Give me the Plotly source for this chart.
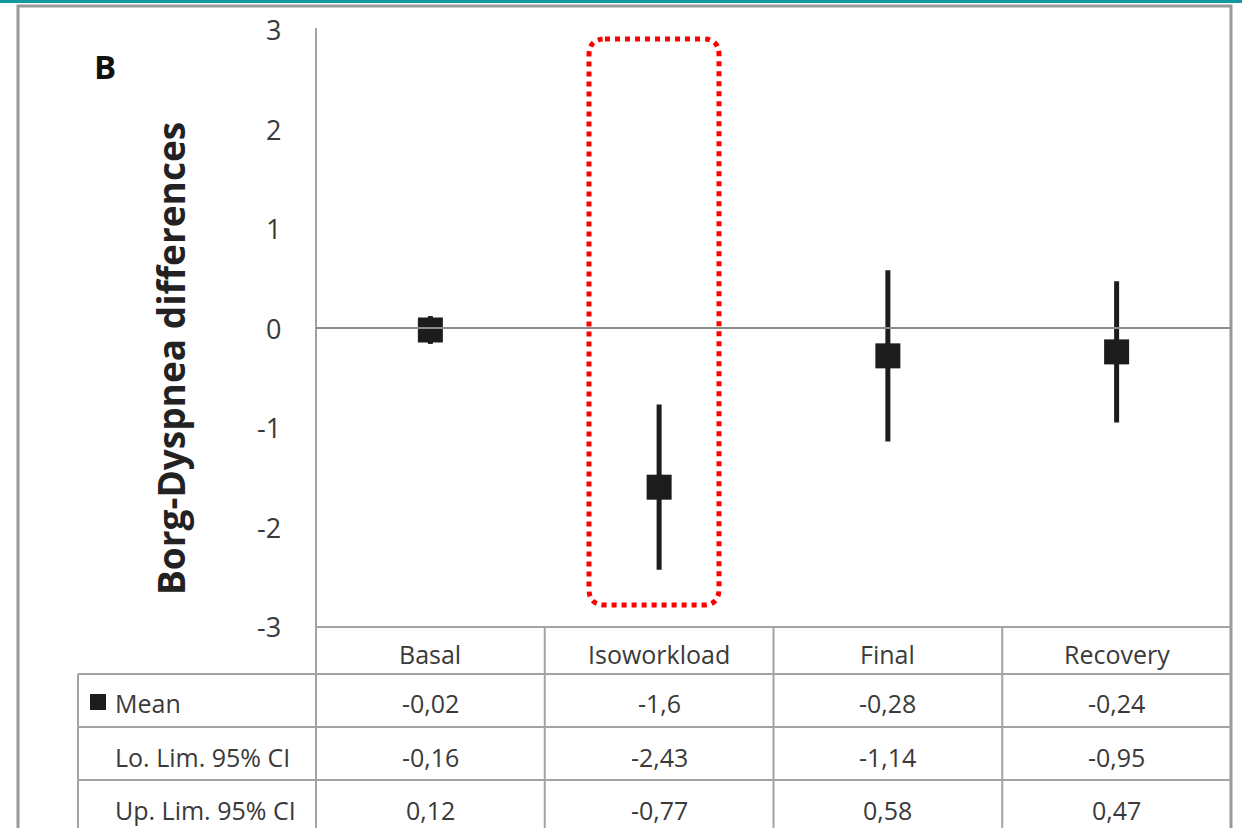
import plotly.graph_objects as go

# Borg dyspnea differences by exercise phase, with 95% confidence limits
phases = ["Basal", "Isoworkload", "Final", "Recovery"]
mean_diff = [-0.02, -1.6, -0.28, -0.24]
lo_ci = [-0.16, -2.43, -1.14, -0.95]
up_ci = [0.12, -0.77, 0.58, 0.47]
y_ticks = [-3, -2, -1, 0, 1, 2, 3]
row_labels = ["Mean", "Lo. Lim. 95% CI", "Up. Lim. 95% CI"]

W, H = 1242, 828


def px(x):
    return x / W


def py(y):
    return 1 - y / H


def fmt(v):
    return f"{v:g}".replace(".", ",")


x_idx = list(range(len(phases)))
err_plus = [u - m for u, m in zip(up_ci, mean_diff)]
err_minus = [m - l for m, l in zip(mean_diff, lo_ci)]

ink = "#1c1c1c"
grid = "#a3a3a3"
txt = "#3a3a3a"
font = "Open Sans"

fig = go.Figure()
fig.add_trace(go.Scatter(
    x=x_idx, y=mean_diff, mode="markers",
    marker=dict(symbol="square", size=25, color=ink),
    error_y=dict(type="data", symmetric=False, array=err_plus,
                 arrayminus=err_minus, thickness=5, width=0, color=ink),
    showlegend=False, cliponaxis=False,
))

shapes = []
line = dict(color=grid, width=2)
# outer frame
shapes.append(dict(type="rect", xref="paper", yref="paper",
                   x0=px(18), x1=px(1231), y0=py(838), y1=py(6),
                   line=dict(color="#9a9a9a", width=3)))
# top accent band
shapes.append(dict(type="rect", xref="paper", yref="paper",
                   x0=0, x1=1, y0=py(3), y1=1,
                   line=dict(width=0), fillcolor="#12999f"))
# value axis line running down through the table
shapes.append(dict(type="line", xref="paper", yref="paper",
                   x0=px(316), x1=px(316), y0=py(28), y1=0, line=line))
# zero line
shapes.append(dict(type="line", xref="paper", yref="y",
                   x0=px(316), x1=px(1231), y0=0, y1=0,
                   line=dict(color="#8c8c8c", width=2)))
# table grid
shapes.append(dict(type="line", xref="paper", yref="paper",
                   x0=px(316), x1=px(1231), y0=py(627), y1=py(627), line=line))
for yy in (674, 727, 780):
    shapes.append(dict(type="line", xref="paper", yref="paper",
                       x0=px(78), x1=px(1231), y0=py(yy), y1=py(yy), line=line))
shapes.append(dict(type="line", xref="paper", yref="paper",
                   x0=px(78), x1=px(78), y0=py(674), y1=0, line=line))
for b in (0.5, 1.5, 2.5):
    shapes.append(dict(type="line", xref="x", yref="paper",
                       x0=b, x1=b, y0=py(627), y1=0, line=line))
# legend swatch for the mean marker
shapes.append(dict(type="rect", xref="paper", yref="paper",
                   x0=px(90), x1=px(106), y0=py(710), y1=py(694),
                   line=dict(width=0), fillcolor=ink))
# dotted highlight around the isoworkload phase
x0, x1, y0, y1, r = 589, 719, 39, 605, 16
path = (f"M {px(x0 + r)} {py(y0)} L {px(x1 - r)} {py(y0)} "
        f"Q {px(x1)} {py(y0)} {px(x1)} {py(y0 + r)} "
        f"L {px(x1)} {py(y1 - r)} Q {px(x1)} {py(y1)} {px(x1 - r)} {py(y1)} "
        f"L {px(x0 + r)} {py(y1)} Q {px(x0)} {py(y1)} {px(x0)} {py(y1 - r)} "
        f"L {px(x0)} {py(y0 + r)} Q {px(x0)} {py(y0)} {px(x0 + r)} {py(y0)} Z")
shapes.append(dict(type="path", xref="paper", yref="paper", path=path,
                   line=dict(color="#ff0000", width=5, dash="dot")))

ann = []


def label(text, x, y, size, xref="paper", yref="paper", xanchor="center",
          color=txt, angle=0):
    ann.append(dict(text=text, xref=xref, yref=yref, x=x, y=y,
                    xanchor=xanchor, yanchor="middle", showarrow=False,
                    textangle=angle,
                    font=dict(family=font, size=size, color=color)))


label("<b>B</b>", px(105), py(66), 33, color="#111111")
label("<b>Borg-Dyspnea differences</b>", px(171), py(359), 37,
      color="#222222", angle=-90)
for t in y_ticks:
    label(str(t), px(283), t, 27, yref="y", xanchor="right")
row_y = [703, 757, 810]
for i, p in enumerate(phases):
    label(p, i, py(654), 25, xref="x")
    for vals, yy in zip((mean_diff, lo_ci, up_ci), row_y):
        label(fmt(vals[i]), i, py(yy), 25, xref="x")
for lab, yy in zip(row_labels, row_y):
    label(lab, px(113), py(yy), 25, xanchor="left")

fig.update_layout(
    width=W, height=H, margin=dict(l=0, r=0, t=0, b=0),
    paper_bgcolor="white", plot_bgcolor="white",
    xaxis=dict(domain=[px(316), px(1231)], range=[-0.5, 3.5],
               showgrid=False, zeroline=False, showticklabels=False,
               showline=False, fixedrange=True),
    yaxis=dict(domain=[py(626.5), py(29.5)], range=[-3, 3],
               showgrid=False, zeroline=False, showticklabels=False,
               showline=False, fixedrange=True),
    shapes=shapes, annotations=ann,
)

fig.write_html("out.html")
